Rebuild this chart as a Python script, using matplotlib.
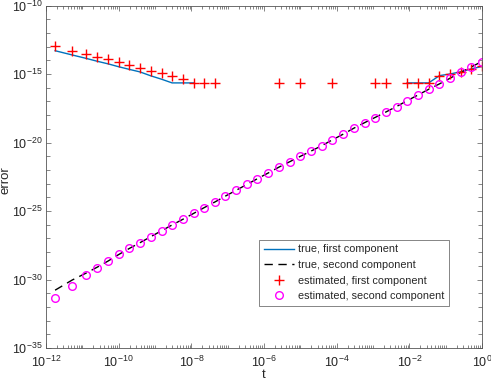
import numpy as np
import matplotlib
matplotlib.use("Agg")
import matplotlib.pyplot as plt
from matplotlib.ticker import FixedLocator, LogFormatterMathtext, NullFormatter

plt.rcParams['font.family'] = ['Liberation Sans', 'DejaVu Sans']
plt.rcParams['mathtext.fontset'] = 'custom'
plt.rcParams['mathtext.rm'] = 'Liberation Sans'
plt.rcParams['mathtext.it'] = 'Liberation Sans:italic'

# exponents (log10) of time grid
log_t = [-11.75, -11.28, -10.91, -10.59, -10.29, -10.00, -9.71, -9.41, -9.12, -8.82,
         -8.53, -8.23, -7.94, -7.65, -7.35, -7.06, -6.76, -6.47, -6.18, -5.88,
         -5.59, -5.29, -5.00, -4.70, -4.41, -4.12, -3.82, -3.53, -3.23, -2.94,
         -2.65, -2.35, -2.06, -1.76, -1.47, -1.17, -0.88, -0.59, -0.29, 0.00]

# log10 of errors (None = exactly zero, not shown on log axis)
true_first = [-13.30, -13.61, -13.85, -14.07, -14.26, -14.47, -14.66, -14.85, -15.13, -15.38,
              -15.65, -15.65, -15.65, None, None, None, None, None, None, None,
              None, None, None, None, None, None, None, None, None, None,
              None, None, -15.65, -15.65, -15.65, -15.12, -15.00, -14.84, -14.62, -14.45]

true_second = [-30.78, -30.04, -29.55, -29.10, -28.65, -28.18, -27.74, -27.31, -26.88, -26.44,
               -26.02, -25.60, -25.18, -24.76, -24.34, -23.91, -23.48, -23.06, -22.64, -22.22,
               -21.80, -21.40, -21.01, -20.62, -20.23, -19.81, -19.39, -18.96, -18.55, -18.17,
               -17.78, -17.37, -16.95, -16.53, -16.12, -15.72, -15.31, -14.89, -14.48, -14.08]

est_first = [-12.96, -13.30, -13.54, -13.74, -13.93, -14.12, -14.32, -14.54, -14.76, -14.95,
             -15.17, -15.39, -15.65, -15.65, -15.65, None, None, None, None, None,
             -15.65, None, -15.65, None, None, -15.65, None, None, None, -15.65,
             -15.65, None, -15.65, -15.65, -15.65, -15.12, -15.01, -14.85, -14.61, -14.45]

est_second = [-31.37, -30.45, -29.67, -29.14, -28.65, -28.16, -27.72, -27.31, -26.88, -26.44,
              -26.02, -25.60, -25.18, -24.76, -24.34, -23.91, -23.48, -23.06, -22.64, -22.22,
              -21.80, -21.40, -21.01, -20.62, -20.23, -19.81, -19.39, -18.96, -18.55, -18.19,
              -17.80, -17.39, -16.95, -16.53, -16.12, -15.73, -15.31, -14.88, -14.47, -14.10]

labels = ['true, first component', 'true, second component',
          'estimated, first component', 'estimated, second component']


def to_val(lst):
    return np.array([np.nan if v is None else 10.0 ** v for v in lst])


t = 10.0 ** np.array(log_t)

fig = plt.figure(figsize=(4.91, 3.87), dpi=100)
ax = fig.add_axes([46 / 491, 1 - 348 / 387, 436 / 491, 342.5 / 387])

ax.plot(t, to_val(true_first), color='#0072BD', lw=1.0, label=labels[0])
ax.plot(t, to_val(true_second), color='black', lw=1.0, ls=(0, (6, 4)), label=labels[1])
ax.plot(t, to_val(est_first), ls='none', marker='+', color='red', ms=7, mew=1.0, label=labels[2])
ax.plot(t, to_val(est_second), ls='none', marker='o', mfc='none', mec='#FF00FF', ms=5.5,
        mew=1.0, label=labels[3])

ax.set_xscale('log')
ax.set_yscale('log')
ax.set_xlim(1e-12, 1)
ax.set_ylim(1e-35, 1e-10)

ax.xaxis.set_major_locator(FixedLocator([10.0 ** e for e in range(-12, 1, 2)]))
xminor = [m * 10.0 ** e for e in range(-12, 0) for m in range(1, 10)]
ax.xaxis.set_minor_locator(FixedLocator(xminor))
ax.yaxis.set_major_locator(FixedLocator([10.0 ** e for e in range(-35, -9, 5)]))
ax.yaxis.set_minor_locator(FixedLocator([10.0 ** e for e in range(-35, -9)]))
ax.xaxis.set_major_formatter(LogFormatterMathtext())
ax.yaxis.set_major_formatter(LogFormatterMathtext())
ax.xaxis.set_minor_formatter(NullFormatter())
ax.yaxis.set_minor_formatter(NullFormatter())

gray = '#262626'
for s in ax.spines.values():
    s.set_linewidth(0.6)
    s.set_color('#555555')
ax.tick_params(which='both', direction='in', top=True, right=True, colors='#555555',
               labelcolor=gray, labelsize=9, width=0.5)
ax.tick_params(which='major', length=3.5)
ax.tick_params(axis='x', which='major', pad=5)
ax.tick_params(axis='y', which='major', pad=2.5)
ax.tick_params(axis='x', which='minor', length=2)
ax.tick_params(axis='y', which='minor', length=3)

ax.set_xlabel('t', fontsize=9.5, color=gray)
ax.set_ylabel('error', fontsize=9.5, color=gray)
ax.xaxis.set_label_coords(0.5, -0.078)
ax.xaxis.label.set_va('center')
ax.yaxis.set_label_coords(-0.094, 0.49)
ax.yaxis.label.set_va('center')

leg = ax.legend(loc='upper left', bbox_to_anchor=(259.3 / 491, 1 - 240 / 387),
                bbox_transform=fig.transFigure, fontsize=7.8, frameon=True, fancybox=False,
                framealpha=1, edgecolor='#555555', borderaxespad=0, handlelength=2.8,
                labelspacing=0.52, borderpad=0.4, handletextpad=0.4)
leg.get_frame().set_linewidth(0.5)
for txt in leg.get_texts():
    txt.set_color(gray)

fig.savefig('out.png', dpi=100)
